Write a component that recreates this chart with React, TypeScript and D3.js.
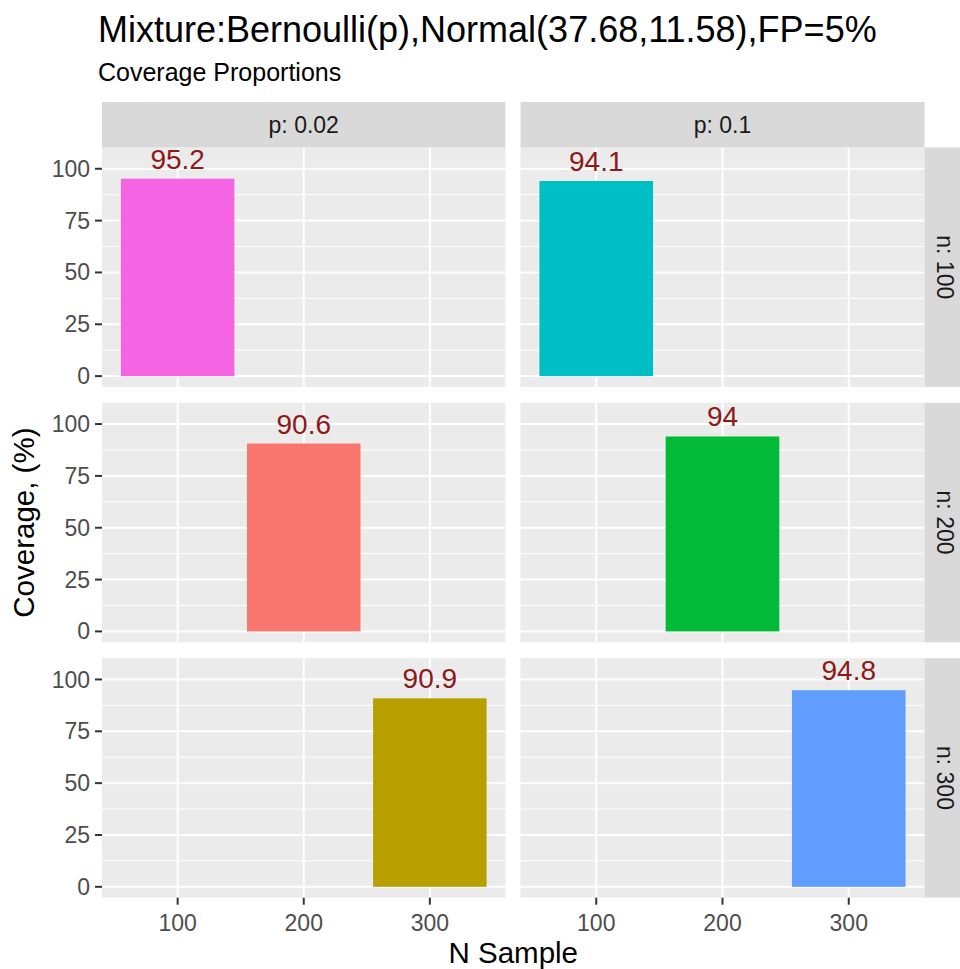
import React from "react";
import * as d3 from "d3";

// ---- data ----
const pLevels = ["0.02", "0.1"];
const nLevels = ["100", "200", "300"];
const sampleCats = ["100", "200", "300"];
const coverageP002 = [95.2, 90.6, 90.9];
const coverageP01 = [94.1, 94, 94.8];
const fillP002 = ["#F564E3", "#F8766D", "#B79F00"];
const fillP01 = ["#00BFC4", "#00BA38", "#619CFF"];
const yTicks = [0, 25, 50, 75, 100];
const yMinor = [12.5, 37.5, 62.5, 87.5];

const titleText = "Mixture:Bernoulli(p),Normal(37.68,11.58),FP=5%";
const subtitleText = "Coverage Proportions";
const xTitle = "N Sample";
const yTitle = "Coverage, (%)";

const W = 960;
const H = 969;
const FONT = "'Liberation Sans', Arial, Helvetica, sans-serif";

const colX: [number, number][] = [
  [102, 505.5],
  [520.5, 924.5],
];
const rowY: [number, number][] = [
  [147.5, 387],
  [402.8, 642.3],
  [658.2, 897.7],
];
const stripTop = 102;
const stripRight = 970;

export default function App() {
  const values = [coverageP002, coverageP01];
  const fills = [fillP002, fillP01];

  const panels: JSX.Element[] = [];

  colX.forEach(([x0, x1], ci) => {
    const xs = d3
      .scaleBand<string>()
      .domain(sampleCats)
      .range([x0, x1])
      .paddingInner(0.1)
      .paddingOuter(0.15);
    const bw = xs.bandwidth();

    rowY.forEach(([y0, y1], ri) => {
      const ys = d3.scaleLinear().domain([-5.25, 110.25]).range([y1, y0]);
      const v = values[ci][ri];
      const cat = nLevels[ri];
      const bx = xs(cat)!;
      const key = `p${ci}-${ri}`;
      panels.push(
        <g key={key}>
          <rect x={x0} y={y0} width={x1 - x0} height={y1 - y0} fill="#EBEBEB" />
          {yMinor.map((t) => (
            <line key={"mi" + t} x1={x0} x2={x1} y1={ys(t)} y2={ys(t)} stroke="#FFFFFF" strokeWidth={1} />
          ))}
          {yTicks.map((t) => (
            <line key={"ma" + t} x1={x0} x2={x1} y1={ys(t)} y2={ys(t)} stroke="#FFFFFF" strokeWidth={2} />
          ))}
          {sampleCats.map((c) => {
            const cx = xs(c)! + bw / 2;
            return <line key={"vx" + c} x1={cx} x2={cx} y1={y0} y2={y1} stroke="#FFFFFF" strokeWidth={2} />;
          })}
          <rect x={bx} y={ys(v)} width={bw} height={ys(0) - ys(v)} fill={fills[ci][ri]} />
          <text
            x={bx + bw / 2}
            y={ys(v) - 10}
            textAnchor="middle"
            fontFamily={FONT}
            fontSize={28}
            fill="#8B1A1A"
          >
            {String(v)}
          </text>
          {ci === 0 &&
            yTicks.map((t) => (
              <g key={"yt" + t}>
                <line x1={x0 - 7} x2={x0} y1={ys(t)} y2={ys(t)} stroke="#333333" strokeWidth={2} />
                <text
                  x={x0 - 12}
                  y={ys(t)}
                  dy="0.35em"
                  textAnchor="end"
                  fontFamily={FONT}
                  fontSize={23}
                  fill="#4D4D4D"
                >
                  {t}
                </text>
              </g>
            ))}
          {ri === rowY.length - 1 &&
            sampleCats.map((c) => {
              const cx = xs(c)! + bw / 2;
              return (
                <g key={"xt" + c}>
                  <line x1={cx} x2={cx} y1={y1} y2={y1 + 7} stroke="#333333" strokeWidth={2} />
                  <text
                    x={cx}
                    y={y1 + 25}
                    dy="0.35em"
                    textAnchor="middle"
                    fontFamily={FONT}
                    fontSize={23}
                    fill="#4D4D4D"
                  >
                    {c}
                  </text>
                </g>
              );
            })}
        </g>
      );
    });

    // top strip
    panels.push(
      <g key={"strip" + ci}>
        <rect x={x0} y={stripTop} width={x1 - x0} height={rowY[0][0] - stripTop} fill="#D9D9D9" />
        <text
          x={(x0 + x1) / 2}
          y={(stripTop + rowY[0][0]) / 2}
          dy="0.35em"
          textAnchor="middle"
          fontFamily={FONT}
          fontSize={23}
          fill="#1A1A1A"
        >
          {"p: " + pLevels[ci]}
        </text>
      </g>
    );
  });

  // right strips
  const rx0 = colX[1][1];
  rowY.forEach(([y0, y1], ri) => {
    const cx = 945;
    const cy = (y0 + y1) / 2;
    panels.push(
      <g key={"rstrip" + ri}>
        <rect x={rx0} y={y0} width={stripRight - rx0} height={y1 - y0} fill="#D9D9D9" />
        <text
          transform={`translate(${cx},${cy}) rotate(90)`}
          dy="0.35em"
          textAnchor="middle"
          fontFamily={FONT}
          fontSize={23}
          fill="#1A1A1A"
        >
          {"n: " + nLevels[ri]}
        </text>
      </g>
    );
  });

  const midX = (colX[0][0] + colX[1][1]) / 2;
  const midY = (rowY[0][0] + rowY[2][1]) / 2;

  return (
    <svg
      width={W}
      height={H}
      viewBox={`0 0 ${W} ${H}`}
      style={{ position: "absolute", left: 0, top: 0, background: "#FFFFFF" }}
    >
      <rect x={0} y={0} width={W} height={H} fill="#FFFFFF" />
      <text x={98} y={42} fontFamily={FONT} fontSize={36} fill="#000000">
        {titleText}
      </text>
      <text x={98} y={81} fontFamily={FONT} fontSize={25} fill="#000000">
        {subtitleText}
      </text>
      {panels}
      <text x={midX} y={963} textAnchor="middle" fontFamily={FONT} fontSize={29.5} fill="#000000">
        {xTitle}
      </text>
      <text
        transform={`translate(34,${midY}) rotate(-90)`}
        textAnchor="middle"
        fontFamily={FONT}
        fontSize={29.5}
        fill="#000000"
      >
        {yTitle}
      </text>
    </svg>
  );
}
